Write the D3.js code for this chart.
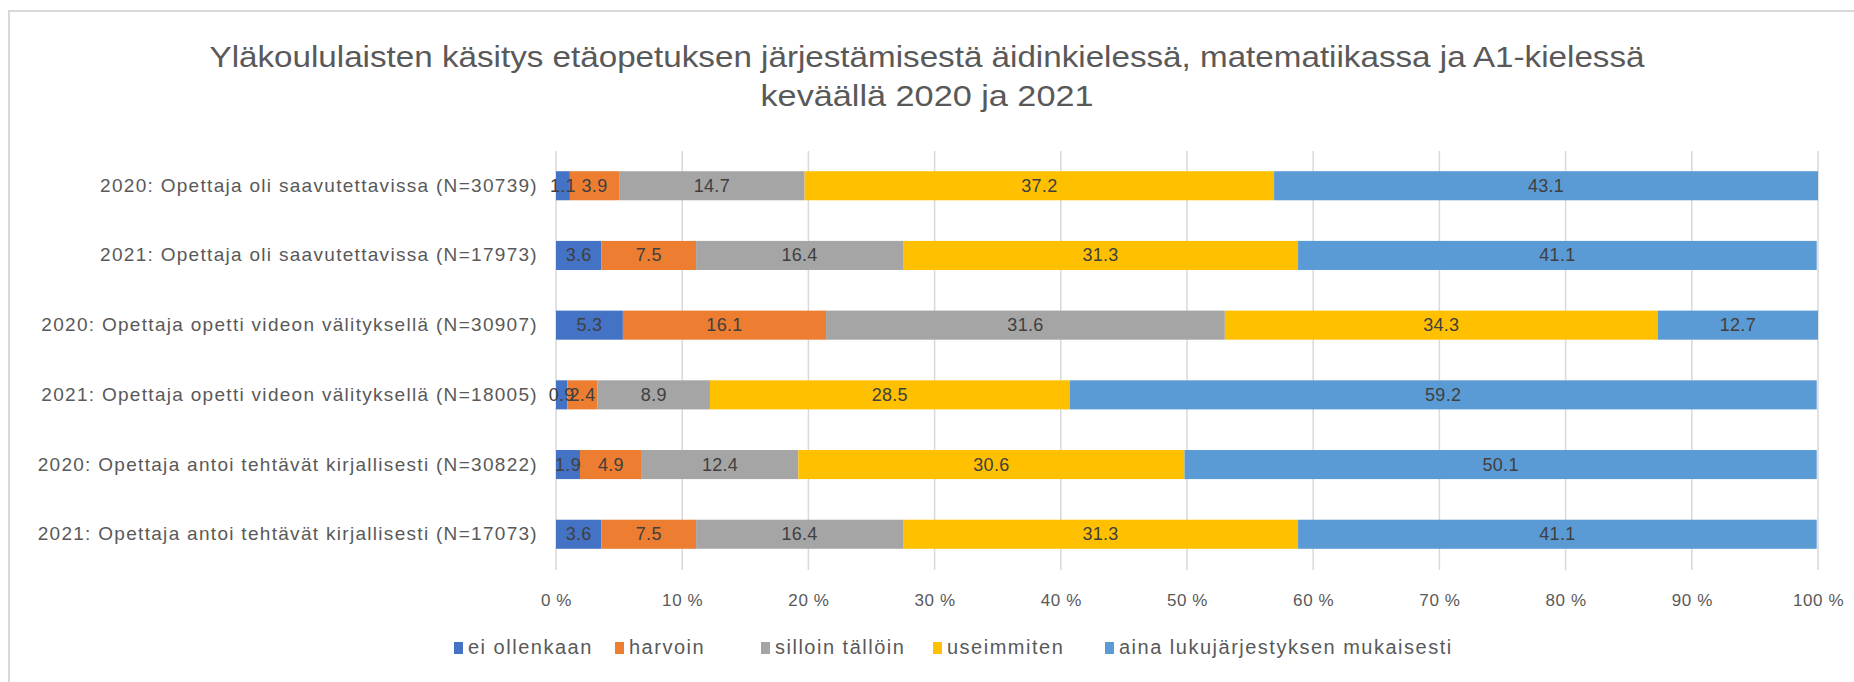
<!DOCTYPE html>
<html><head><meta charset="utf-8">
<script src="https://cdn.jsdelivr.net/npm/d3@7"></script>
<style>body{margin:0;background:#fff}svg{display:block}text{font-family:"Liberation Sans Narrow","Liberation Sans",sans-serif}</style>
</head><body><svg id="c" width="1854" height="682"></svg>
<script>
const titleLines = ["Yläkoululaisten käsitys etäopetuksen järjestämisestä äidinkielessä, matematiikassa ja A1-kielessä", "keväällä 2020 ja 2021"];
const categories = [
  "2020: Opettaja oli saavutettavissa (N=30739)",
  "2021: Opettaja oli saavutettavissa (N=17973)",
  "2020: Opettaja opetti videon välityksellä (N=30907)",
  "2021: Opettaja opetti videon välityksellä (N=18005)",
  "2020: Opettaja antoi tehtävät kirjallisesti (N=30822)",
  "2021: Opettaja antoi tehtävät kirjallisesti (N=17073)"
];
const seriesNames = ["ei ollenkaan","harvoin","silloin tällöin","useimmiten","aina lukujärjestyksen mukaisesti"];
const eiOllenkaan = [1.1, 3.6, 5.3, 0.9, 1.9, 3.6];
const harvoin = [3.9, 7.5, 16.1, 2.4, 4.9, 7.5];
const silloinTalloin = [14.7, 16.4, 31.6, 8.9, 12.4, 16.4];
const useimmiten = [37.2, 31.3, 34.3, 28.5, 30.6, 31.3];
const aina = [43.1, 41.1, 12.7, 59.2, 50.1, 41.1];
const tickValues = [0,10,20,30,40,50,60,70,80,90,100];
const colors = ["#4472C4","#ED7D31","#A5A5A5","#FFC000","#5B9BD5"];

const seriesVals = [eiOllenkaan, harvoin, silloinTalloin, useimmiten, aina];
const svg = d3.select("#c");
// chart border
svg.append("rect").attr("x",9).attr("y",11).attr("width",1900).attr("height",700)
  .attr("fill","none").attr("stroke","#d9d9d9").attr("stroke-width",2);

const x = d3.scaleLinear().domain([0,100]).range([556,1818]);
const y = d3.scaleBand().domain(categories).range([151,569]).paddingInner(0.583).paddingOuter(0.29);

// title
const titleWidths = [1435, 333];
svg.append("g").selectAll("text").data(titleLines).join("text")
  .attr("x",927).attr("y",(d,i)=>67+i*39).attr("text-anchor","middle")
  .attr("font-size",30).attr("fill","#595959")
  .attr("textLength",(d,i)=>titleWidths[i]).attr("lengthAdjust","spacingAndGlyphs").text(d=>d);

// gridlines
svg.append("g").selectAll("line").data(tickValues).join("line")
  .attr("x1",d=>x(d)).attr("x2",d=>x(d)).attr("y1",151).attr("y2",570)
  .attr("stroke","#d9d9d9").attr("stroke-width",1.5);

// stacked data
const rows = categories.map((c,i)=>{const o={cat:c}; seriesNames.forEach((s,j)=>o[s]=seriesVals[j][i]); return o;});
const stack = d3.stack().keys(seriesNames)(rows);

const g = svg.append("g");
stack.forEach((layer,j)=>{
  g.append("g").selectAll("rect").data(layer).join("rect")
    .attr("x",d=>x(d[0])).attr("width",d=>x(d[1])-x(d[0]))
    .attr("y",d=>y(d.data.cat)).attr("height",y.bandwidth())
    .attr("fill",colors[j]);
});
stack.forEach((layer,j)=>{
  g.append("g").selectAll("text").data(layer).join("text")
    .attr("x",d=>(x(d[0])+x(d[1]))/2).attr("y",d=>y(d.data.cat)+y.bandwidth()/2+6)
    .attr("text-anchor","middle").attr("font-size",18).attr("letter-spacing",0.3).attr("fill","#404040")
    .text(d=>d3.format(".1f")(d[1]-d[0]));
});

// category axis labels
svg.append("g").selectAll("text").data(categories).join("text")
  .attr("x",538).attr("y",d=>y(d)+y.bandwidth()/2+6).attr("text-anchor","end")
  .attr("font-size",19).attr("letter-spacing",1.3).attr("fill","#595959").text(d=>d);

// x axis
const xAxis = svg.append("g").attr("transform","translate(0,570)")
  .call(d3.axisBottom(x).tickValues(tickValues).tickSize(0).tickPadding(24).tickFormat(d=>d+" %"));
xAxis.select(".domain").remove();
xAxis.selectAll("text").attr("font-size",17).attr("letter-spacing",0.6).attr("fill","#595959")
  .style("font-family",'"Liberation Sans Narrow","Liberation Sans",sans-serif');

// legend
const legX = [454,615,761,933,1105];
const leg = svg.append("g").selectAll("g").data(seriesNames).join("g")
  .attr("transform",(d,i)=>`translate(${legX[i]},648)`);
leg.append("rect").attr("x",0).attr("y",-6).attr("width",9).attr("height",12).attr("fill",(d,i)=>colors[i]);
leg.append("text").attr("x",14).attr("y",6).attr("font-size",20).attr("letter-spacing",1.5).attr("fill","#595959").text(d=>d);
</script></body></html>
